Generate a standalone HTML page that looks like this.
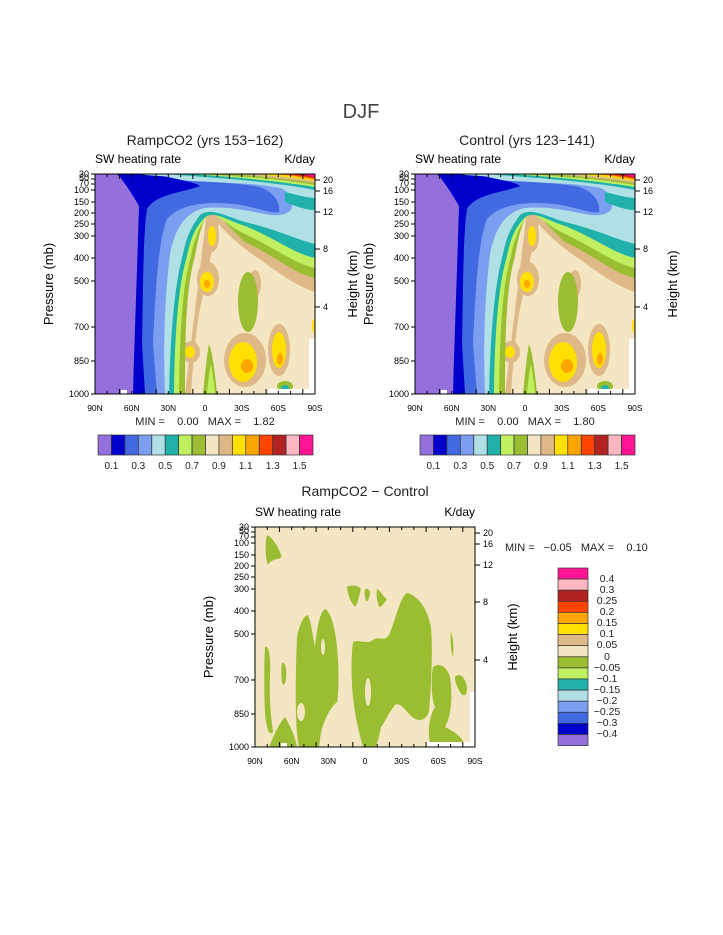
<!DOCTYPE html>
<html><head><meta charset="utf-8"><style>
html,body{margin:0;padding:0;background:#fff;}
svg{display:block;font-family:"Liberation Sans",sans-serif;}
</style></head><body>
<svg width="723" height="935" viewBox="0 0 723 935" xmlns="http://www.w3.org/2000/svg">
<defs>
<clipPath id="cp"><rect x="0" y="0" width="220" height="220"/></clipPath>
<g id="field" clip-path="url(#cp)">
<rect x="0" y="0" width="220" height="220" fill="#f5e6c3"/>
<!-- tan band -->
<path d="M112,36 C140,52 190,92 220,100 L220,118 C200,112 180,96 160,82 C145,72 132,60 124,50 C118,70 112,100 104,140 C100,165 98,190 96,220 L90,220 Z" fill="#deb887"/>
<ellipse cx="113" cy="105" rx="11" ry="17" fill="#deb887"/>
<ellipse cx="117" cy="62" rx="7" ry="16" fill="#deb887"/>
<ellipse cx="150" cy="186" rx="21" ry="27" fill="#deb887"/>
<ellipse cx="184" cy="176" rx="11" ry="26" fill="#deb887"/>
<ellipse cx="96" cy="178" rx="9" ry="11" fill="#deb887"/>
<ellipse cx="160" cy="110" rx="6" ry="14" fill="#deb887"/>
<!-- green -->
<path d="M0,0 L220,0 L220,104 C200,100 180,82 150,68 C135,55 125,42 118,36 C108,42 104,60 100,82 C92,110 90,150 90,220 L0,220Z" fill="#9abd32"/>
<path d="M0,0 L220,0 L220,94 C200,90 180,74 150,60 C130,50 122,40 115,40 C106,48 100,62 96,82 C88,110 85,150 84,220 L0,220Z" fill="#c0f060"/>
<path d="M0,0 L220,0 L220,84 C200,80 180,64 150,52 C130,45 120,38 112,42 C102,50 96,62 92,82 C84,110 80,150 79,220 L0,220Z" fill="#20b2aa"/>
<path d="M0,0 L220,0 L220,70 C200,65 180,55 150,48 C130,42 118,34 106,40 C98,50 92,60 88,80 C80,110 76,150 74,220 L0,220Z" fill="#b0e0e6"/>
<path d="M0,0 L30,0 C60,8 150,8 180,12 C195,16 200,26 196,36 C190,42 180,42 170,40 C150,36 130,32 110,34 C90,38 80,55 75,80 C70,120 68,170 70,220 L0,220Z" fill="#7b9ef0"/>
<path d="M0,0 L40,0 C60,8 120,6 160,12 C178,16 186,28 184,38 C176,40 165,34 140,30 C110,27 85,30 72,45 C62,70 60,130 58,170 L62,220 L0,220Z" fill="#4169e1"/>
<path d="M0,0 L60,0 C80,5 100,8 105,12 C90,18 60,20 52,35 C48,60 48,120 47,170 L50,220 L0,220Z" fill="#0000cd"/>
<path d="M0,0 L22,0 C28,6 36,18 44,32 C43,70 40,150 38,220 L0,220Z" fill="#9370db"/>
<!-- right teal band near top -->
<path d="M190,18 C205,22 215,24 220,24 L220,36 C210,36 200,32 190,28Z" fill="#20b2aa"/>
<!-- top strip -->
<path d="M40,0 L220,0 L220,20 C190,14 150,8 100,4 C80,3 60,2 40,0Z" fill="#b0e0e6"/>
<path d="M70,0 L220,0 L220,16 C190,10 150,6 110,3Z" fill="#20b2aa"/>
<path d="M90,0 L220,0 L220,13 C190,8 150,4 110,1Z" fill="#c0f060"/>
<path d="M110,0 L220,0 L220,11 C190,6 160,3 120,1Z" fill="#9abd32"/>
<path d="M140,0 L220,0 L220,9 C195,5 170,3 140,0Z" fill="#deb887"/>
<path d="M160,0 L220,0 L220,7 C200,4 180,2 160,0Z" fill="#ffe000"/>
<path d="M175,0 L220,0 L220,6 C205,3 190,1 175,0Z" fill="#ffa500"/>
<path d="M185,0 L220,0 L220,5 C210,3 195,1 185,0Z" fill="#ff4500"/>
<path d="M195,0 L220,0 L220,4 C212,2 202,1 195,0Z" fill="#b22222"/>
<path d="M205,0 L220,0 L220,3 Z" fill="#ff1493"/>
<!-- interior -->
<ellipse cx="153" cy="128" rx="10" ry="30" fill="#9abd32"/>
<path d="M108,220 C110,200 112,180 114,170 C118,180 120,200 122,220Z" fill="#9abd32"/>
<path d="M112,220 C113,205 115,195 116,190 C118,200 119,210 120,220Z" fill="#c0f060"/>
<ellipse cx="117" cy="62" rx="4" ry="10" fill="#ffe000"/>
<ellipse cx="112" cy="108" rx="7" ry="10" fill="#ffe000"/>
<ellipse cx="112" cy="110" rx="3" ry="4" fill="#ffa500"/>
<ellipse cx="95" cy="178" rx="5" ry="6" fill="#ffe000"/>
<ellipse cx="148" cy="188" rx="14" ry="20" fill="#ffe000"/>
<ellipse cx="152" cy="192" rx="6" ry="7" fill="#ffa500"/>
<ellipse cx="184" cy="176" rx="7" ry="18" fill="#ffe000"/>
<ellipse cx="185" cy="185" rx="3" ry="6" fill="#ffa500"/>
<ellipse cx="190" cy="212" rx="8" ry="5" fill="#9abd32"/>
<ellipse cx="190" cy="214" rx="4" ry="3" fill="#20b2aa"/>
<ellipse cx="220" cy="152" rx="3" ry="8" fill="#ffe000"/>
<rect x="173" y="215" width="47" height="5" fill="#fff"/>
<rect x="214" y="165" width="6" height="55" fill="#fff"/>
<rect x="26" y="216" width="6" height="4" fill="#fff"/>
</g>
<g id="axes" font-size="9" fill="#000">
<rect x="0" y="0" width="220" height="220" fill="none" stroke="#000" stroke-width="1"/>
<g stroke="#000" stroke-width="1">
<line x1="-4" y1="0" x2="0" y2="0"/><line x1="-4" y1="5" x2="0" y2="5"/><line x1="-4" y1="10" x2="0" y2="10"/>
<line x1="-4" y1="16" x2="0" y2="16"/><line x1="-4" y1="28" x2="0" y2="28"/><line x1="-4" y1="39" x2="0" y2="39"/>
<line x1="-4" y1="50" x2="0" y2="50"/><line x1="-4" y1="62" x2="0" y2="62"/><line x1="-4" y1="84" x2="0" y2="84"/>
<line x1="-4" y1="107" x2="0" y2="107"/><line x1="-4" y1="153" x2="0" y2="153"/><line x1="-4" y1="187" x2="0" y2="187"/>
<line x1="-4" y1="220" x2="0" y2="220"/>
<line x1="220" y1="6" x2="225" y2="6"/><line x1="220" y1="17" x2="225" y2="17"/><line x1="220" y1="38" x2="225" y2="38"/>
<line x1="220" y1="75" x2="225" y2="75"/><line x1="220" y1="133" x2="225" y2="133"/>
<path d="M12.2,220v-3M24.4,220v-5M36.7,220v-3M48.9,220v-3M61.1,220v-5M73.3,220v-3M85.6,220v-3M97.8,220v-5M110,220v-3M122.2,220v-3M134.4,220v-5M146.7,220v-3M158.9,220v-3M171.1,220v-5M183.3,220v-3M195.6,220v-3M207.8,220v-5"/>
<path d="M12.2,0v3M24.4,0v5M36.7,0v3M48.9,0v3M61.1,0v5M73.3,0v3M85.6,0v3M97.8,0v5M110,0v3M122.2,0v3M134.4,0v5M146.7,0v3M158.9,0v3M171.1,0v5M183.3,0v3M195.6,0v3M207.8,0v5"/>
</g>
<g text-anchor="end">
<text x="-6" y="3">30</text><text x="-6" y="7">50</text><text x="-6" y="12">70</text>
<text x="-6" y="19">100</text><text x="-6" y="31">150</text><text x="-6" y="42">200</text><text x="-6" y="53">250</text>
<text x="-6" y="65">300</text><text x="-6" y="87">400</text><text x="-6" y="110">500</text><text x="-6" y="156">700</text>
<text x="-6" y="190">850</text><text x="-6" y="223">1000</text>
</g>
<text x="228" y="9">20</text><text x="228" y="20">16</text><text x="228" y="41">12</text><text x="228" y="78">8</text><text x="228" y="136">4</text>
<g text-anchor="middle" font-size="8.5">
<text x="0" y="237">90N</text><text x="36.7" y="237">60N</text><text x="73.3" y="237">30N</text><text x="110" y="237">0</text>
<text x="146.7" y="237">30S</text><text x="183.3" y="237">60S</text><text x="220" y="237">90S</text>
</g>
<text x="0" y="-11" font-size="12">SW heating rate</text>
<text x="220" y="-11" font-size="12" text-anchor="end">K/day</text>
<text transform="translate(-42,110) rotate(-90)" text-anchor="middle" font-size="13">Pressure (mb)</text>
<text transform="translate(262,110) rotate(-90)" text-anchor="middle" font-size="13">Height (km)</text>
</g>
<g id="hbar" stroke="#333" stroke-width="0.7">
<rect x="0" width="13.4" height="20" fill="#9370db"/><rect x="13.4" width="13.4" height="20" fill="#0000cd"/>
<rect x="26.9" width="13.4" height="20" fill="#4169e1"/><rect x="40.3" width="13.4" height="20" fill="#7b9ef0"/>
<rect x="53.8" width="13.4" height="20" fill="#b0e0e6"/><rect x="67.2" width="13.4" height="20" fill="#20b2aa"/>
<rect x="80.6" width="13.4" height="20" fill="#c0f060"/><rect x="94.1" width="13.4" height="20" fill="#9abd32"/>
<rect x="107.5" width="13.4" height="20" fill="#f5e6c3"/><rect x="120.9" width="13.4" height="20" fill="#deb887"/>
<rect x="134.4" width="13.4" height="20" fill="#ffe000"/><rect x="147.8" width="13.4" height="20" fill="#ffa500"/>
<rect x="161.3" width="13.4" height="20" fill="#ff4500"/><rect x="174.7" width="13.4" height="20" fill="#b22222"/>
<rect x="188.1" width="13.4" height="20" fill="#ffb6c1"/><rect x="201.6" width="13.4" height="20" fill="#ff1493"/>
</g>
<g id="hlab" font-size="10" fill="#222" text-anchor="middle">
<text x="13.4" y="34">0.1</text><text x="40.3" y="34">0.3</text><text x="67.2" y="34">0.5</text><text x="94.1" y="34">0.7</text>
<text x="120.9" y="34">0.9</text><text x="147.8" y="34">1.1</text><text x="174.7" y="34">1.3</text><text x="201.6" y="34">1.5</text>
</g>
</defs>

<text x="361" y="118" font-size="20" text-anchor="middle" fill="#444">DJF</text>

<!-- panel 1 -->
<text x="205" y="145" font-size="14" text-anchor="middle" fill="#222">RampCO2 (yrs 153−162)</text>
<g transform="translate(95,174)"><use href="#field"/><use href="#axes"/></g>
<text x="205" y="425" font-size="11" text-anchor="middle" fill="#222" xml:space="preserve">MIN =    0.00   MAX =    1.82</text>
<g transform="translate(98,435)"><use href="#hbar"/><use href="#hlab"/></g>

<!-- panel 2 -->
<text x="527" y="145" font-size="14" text-anchor="middle" fill="#222">Control (yrs 123−141)</text>
<g transform="translate(415,174)"><use href="#field"/><use href="#axes"/></g>
<text x="525" y="425" font-size="11" text-anchor="middle" fill="#222" xml:space="preserve">MIN =    0.00   MAX =    1.80</text>
<g transform="translate(420,435)"><use href="#hbar"/><use href="#hlab"/></g>

<!-- bottom panel -->
<text x="365" y="496" font-size="14" text-anchor="middle" fill="#222">RampCO2 − Control</text>
<g transform="translate(255,527)">
<rect width="220" height="220" fill="#f5e6c3"/>
<g fill="#9abd32">
<path d="M12,8 C18,10 24,22 27,30 C22,33 16,32 13,38 C10,30 10,15 12,8Z"/>
<path d="M92,60 C98,57 104,59 106,62 C104,70 102,78 100,80 C96,75 93,70 92,60Z"/>
<path d="M110,62 C113,61 115,63 115,66 C114,72 113,75 111,74 C110,70 109,66 110,62Z"/>
<path d="M122,62 C126,64 128,70 132,72 C128,78 126,80 124,80 C122,74 121,68 122,62Z"/>
<path d="M42,110 C45,95 50,88 53,88 C56,95 58,110 60,120 C62,100 65,85 70,82 C76,85 80,100 82,120 C84,140 84,165 82,175 C76,180 70,190 66,205 L64,220 L44,220 C40,200 40,160 42,110Z"/>
<path d="M98,115 C104,112 112,118 118,113 C124,108 128,116 134,108 C140,95 145,70 152,66 C162,68 172,80 176,100 C178,125 176,160 174,185 C170,195 162,195 155,188 C148,180 144,175 140,178 C134,185 130,195 126,200 C124,210 122,218 120,220 L108,220 C104,205 100,190 98,170 C96,150 96,130 98,115Z"/>
<path d="M10,120 C14,118 16,130 15,150 C14,170 16,190 18,205 C14,210 11,200 10,185 C9,160 9,135 10,120Z"/>
<path d="M27,136 C30,134 32,142 31,152 C30,158 28,160 27,155 C26,148 26,140 27,136Z"/>
<path d="M14,220 C20,205 25,195 30,190 C36,200 40,210 42,220Z"/>
<path d="M178,140 C185,135 192,140 195,150 C198,170 196,190 190,200 C200,205 208,210 210,220 L176,220 C172,205 174,190 180,180 C176,170 176,150 178,140Z"/>
<path d="M200,150 C205,145 210,150 212,160 C212,170 208,170 205,165 C202,160 200,155 200,150Z"/>
<path d="M196,105 C198,110 199,120 198,130 C196,125 195,115 196,105Z"/>
</g>
<g fill="#f5e6c3">
<ellipse cx="46" cy="185" rx="4" ry="9"/>
<ellipse cx="113" cy="165" rx="3" ry="14"/>
<ellipse cx="68" cy="120" rx="2" ry="8"/>
</g>
<rect x="171" y="215" width="49" height="5" fill="#fff"/>
<rect x="215" y="165" width="5" height="55" fill="#fff"/>
<rect x="26" y="216" width="6" height="4" fill="#fff"/>
<use href="#axes"/>
</g>
<text x="505" y="551" font-size="11" fill="#222" xml:space="preserve">MIN =   −0.05   MAX =    0.10</text>
<g transform="translate(558,568)" stroke="#333" stroke-width="0.7">
<rect y="0" width="30" height="11.1" fill="#ff1493"/><rect y="11.1" width="30" height="11.1" fill="#ffb6c1"/>
<rect y="22.2" width="30" height="11.1" fill="#b22222"/><rect y="33.3" width="30" height="11.1" fill="#ff4500"/>
<rect y="44.4" width="30" height="11.1" fill="#ffa500"/><rect y="55.5" width="30" height="11.1" fill="#ffe000"/>
<rect y="66.6" width="30" height="11.1" fill="#deb887"/><rect y="77.7" width="30" height="11.1" fill="#f5e6c3"/>
<rect y="88.8" width="30" height="11.1" fill="#9abd32"/><rect y="99.9" width="30" height="11.1" fill="#c0f060"/>
<rect y="111" width="30" height="11.1" fill="#20b2aa"/><rect y="122.1" width="30" height="11.1" fill="#b0e0e6"/>
<rect y="133.2" width="30" height="11.1" fill="#7b9ef0"/><rect y="144.3" width="30" height="11.1" fill="#4169e1"/>
<rect y="155.4" width="30" height="11.1" fill="#0000cd"/><rect y="166.5" width="30" height="11.1" fill="#9370db"/>
</g>
<g font-size="10.5" fill="#222" text-anchor="middle">
<text x="607" y="582">0.4</text><text x="607" y="593">0.3</text><text x="607" y="604">0.25</text><text x="607" y="615">0.2</text>
<text x="607" y="626">0.15</text><text x="607" y="637">0.1</text><text x="607" y="648">0.05</text><text x="607" y="660">0</text>
<text x="607" y="671">−0.05</text><text x="607" y="682">−0.1</text><text x="607" y="693">−0.15</text><text x="607" y="704">−0.2</text>
<text x="607" y="715">−0.25</text><text x="607" y="726">−0.3</text><text x="607" y="737">−0.4</text>
</g>
</svg>
</body></html>
